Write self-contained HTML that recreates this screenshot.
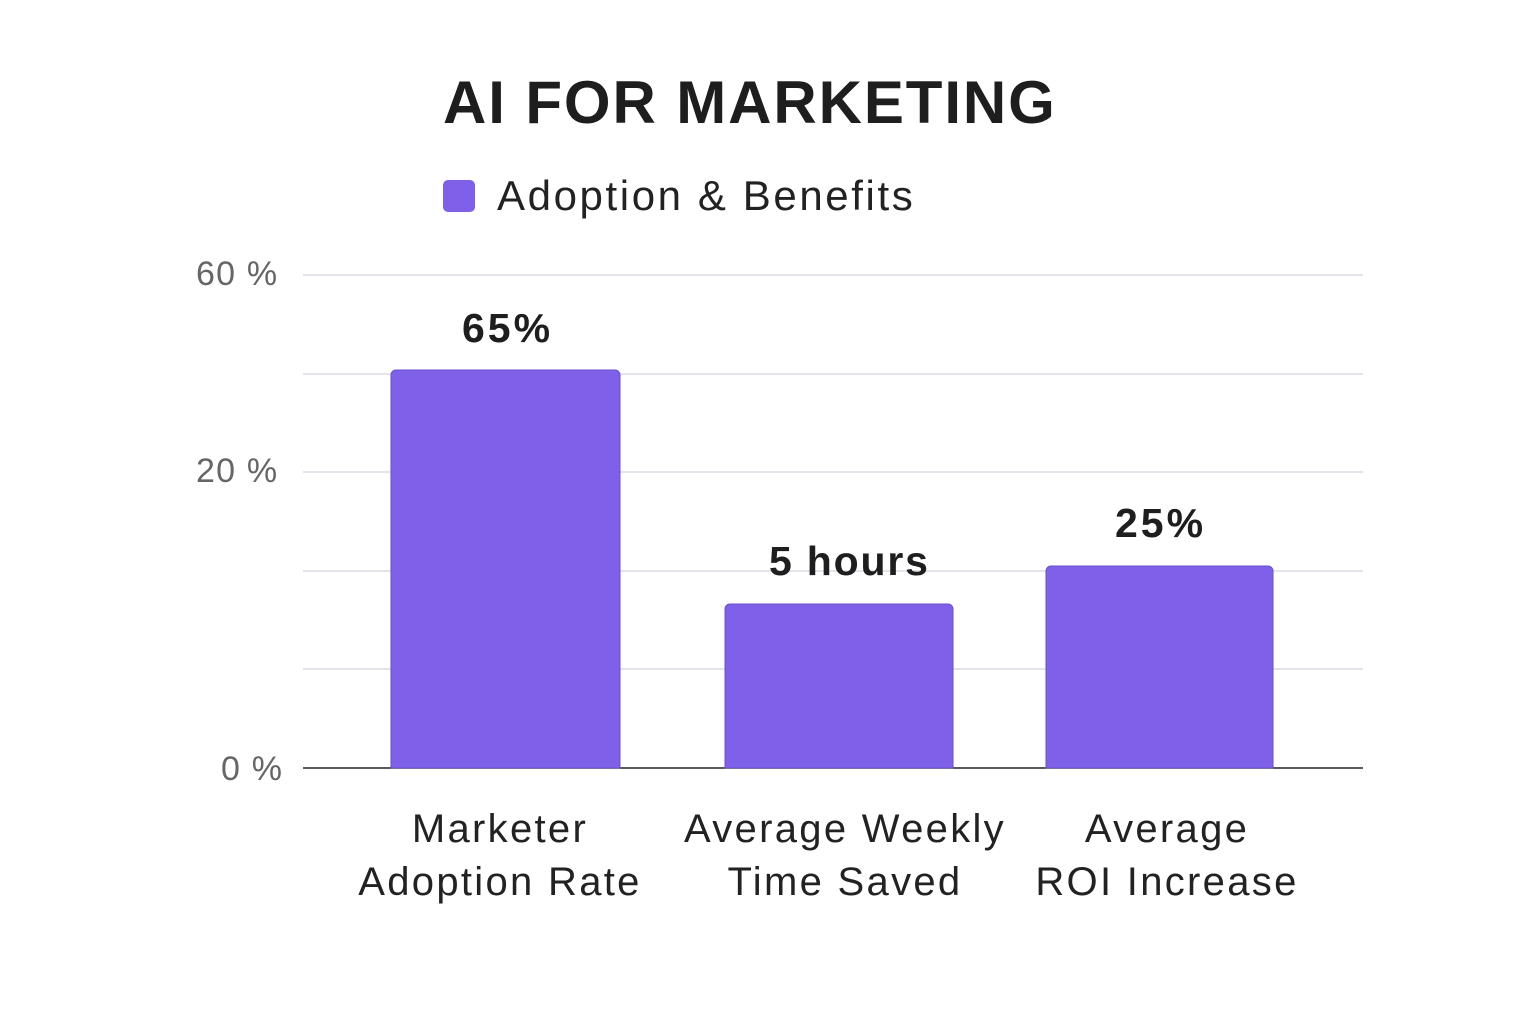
<!DOCTYPE html>
<html><head><style>
html,body{margin:0;padding:0;background:#fff;}
body{width:1536px;height:1024px;position:relative;overflow:hidden;font-family:"Liberation Sans",sans-serif;}
.t{position:absolute;white-space:nowrap;}
</style></head><body>
<svg width="1536" height="1024" style="position:absolute;left:0;top:0">
<g stroke="#dcdce6" stroke-width="1.5">
<line x1="303" y1="275" x2="1363" y2="275"/>
<line x1="303" y1="374" x2="1363" y2="374"/>
<line x1="303" y1="472" x2="1363" y2="472"/>
<line x1="303" y1="571" x2="1363" y2="571"/>
<line x1="303" y1="669" x2="1363" y2="669"/>
</g>
<line x1="303" y1="768" x2="1363" y2="768" stroke="#222" stroke-width="1.5"/>
<g fill="#7f60e8" stroke="#6a4fd0" stroke-width="1">
<path d="M391,768 V375 a5,5 0 0 1 5,-5 H615 a5,5 0 0 1 5,5 V768 Z"/>
<path d="M725,768 V609 a5,5 0 0 1 5,-5 H948 a5,5 0 0 1 5,5 V768 Z"/>
<path d="M1046,768 V571 a5,5 0 0 1 5,-5 H1268 a5,5 0 0 1 5,5 V768 Z"/>
</g>
<rect x="443" y="180" width="32" height="32" rx="5" fill="#7f60e8"/>
</svg>
<div class="t" style="left:443px;top:68px;font-size:60px;font-weight:bold;color:#1e1e1e;letter-spacing:1.9px;">AI FOR MARKETING</div>
<div class="t" style="left:497px;top:172px;font-size:42px;color:#222;letter-spacing:2.6px;">Adoption &amp; Benefits</div>
<div class="t" style="left:196px;top:255px;font-size:34px;color:#666;letter-spacing:1.2px;">60 %</div>
<div class="t" style="left:196px;top:452px;font-size:34px;color:#666;letter-spacing:1.2px;">20 %</div>
<div class="t" style="left:221px;top:750px;font-size:34px;color:#666;letter-spacing:1.2px;">0 %</div>
<div class="t" style="left:462px;top:305px;font-size:41px;font-weight:bold;color:#1e1e1e;letter-spacing:3px;">65%</div>
<div class="t" style="left:769px;top:538px;font-size:41px;font-weight:bold;color:#1e1e1e;letter-spacing:1.8px;">5 hours</div>
<div class="t" style="left:1115px;top:500px;font-size:41px;font-weight:bold;color:#1e1e1e;letter-spacing:3px;">25%</div>
<div class="t" style="left:300px;width:400px;text-align:center;top:803px;font-size:40px;line-height:53px;color:#222;letter-spacing:2.3px;">Marketer<br>Adoption Rate</div>
<div class="t" style="left:645px;width:400px;text-align:center;top:803px;font-size:40px;line-height:53px;color:#222;letter-spacing:2.3px;">Average Weekly<br>Time Saved</div>
<div class="t" style="left:967px;width:400px;text-align:center;top:803px;font-size:40px;line-height:53px;color:#222;letter-spacing:2.3px;">Average<br>ROI Increase</div>
</body></html>
